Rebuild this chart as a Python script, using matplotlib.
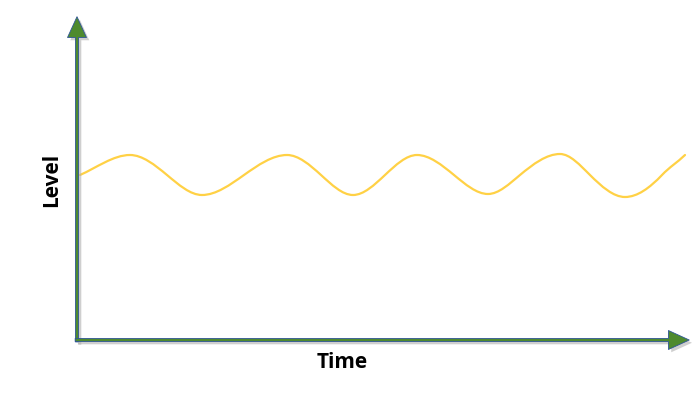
import matplotlib
matplotlib.use("Agg")
import matplotlib.pyplot as plt
from matplotlib.patches import FancyArrowPatch, PathPatch
from matplotlib.path import Path
import matplotlib.patheffects as pe

# Values (arbitrary units): peaks, troughs and mid-crossings
time = [3, 53, 90, 125, 167, 210, 244, 276, 308, 340, 377, 411, 443, 483, 513,
        548, 585, 608]
level = [165, 185, 165, 145, 165, 185, 165, 145, 165, 185, 165, 146, 165, 186, 165,
         143, 165, 185]
x_label = "Time"
y_label = "Level"

fig = plt.figure(figsize=(7, 3.94), dpi=100)
ax = fig.add_axes([77 / 700, 54 / 394, 611 / 700, 322 / 394])
ax.set_xlim(0, 611)
ax.set_ylim(0, 322)
ax.axis("off")

# Smooth line drawn as cubic Bezier (Hermite) segments through the read points
n = len(time)
slopes = []
for i in range(n):
    a = max(i - 1, 0)
    b = min(i + 1, n - 1)
    s = (level[b] - level[a]) / (time[b] - time[a])
    slopes.append(s * (1.5 if 0 < i < n - 1 else 1.1))
verts = [(time[0], level[0])]
codes = [Path.MOVETO]
for i in range(n - 1):
    dx = time[i + 1] - time[i]
    verts += [(time[i] + dx / 3, level[i] + slopes[i] * dx / 3),
              (time[i + 1] - dx / 3, level[i + 1] - slopes[i + 1] * dx / 3),
              (time[i + 1], level[i + 1])]
    codes += [Path.CURVE4] * 3
ax.add_patch(PathPatch(Path(verts, codes), facecolor="none", edgecolor="#FFD145",
                       lw=1.6, capstyle="round", zorder=3))

shadow = [pe.SimplePatchShadow(offset=(2, -2), shadow_rgbFace="#b0b0b0", alpha=0.6), pe.Normal()]
style = "simple,head_length=1.15,head_width=1.05,tail_width=0.17"
for start, end in [((0, -0.006), (0, 1.004)), ((-0.003, 0), (1.002, 0))]:
    arr = FancyArrowPatch(start, end, transform=ax.transAxes, arrowstyle=style,
                          mutation_scale=13, facecolor="#4E8A2E", edgecolor="#2F5597",
                          lw=0.6, clip_on=False, zorder=4, shrinkA=0, shrinkB=0)
    arr.set_path_effects(shadow)
    ax.add_patch(arr)

fig.text(342 / 700, 1 - 362 / 394, x_label, ha="center", va="center",
         fontsize=15, fontweight="bold", family="Open Sans")
fig.text(52 / 700, 1 - 180 / 394, y_label, ha="center", va="center", rotation=90,
         fontsize=15, fontweight="bold", family="Open Sans")

fig.savefig("out.png", dpi=100)
